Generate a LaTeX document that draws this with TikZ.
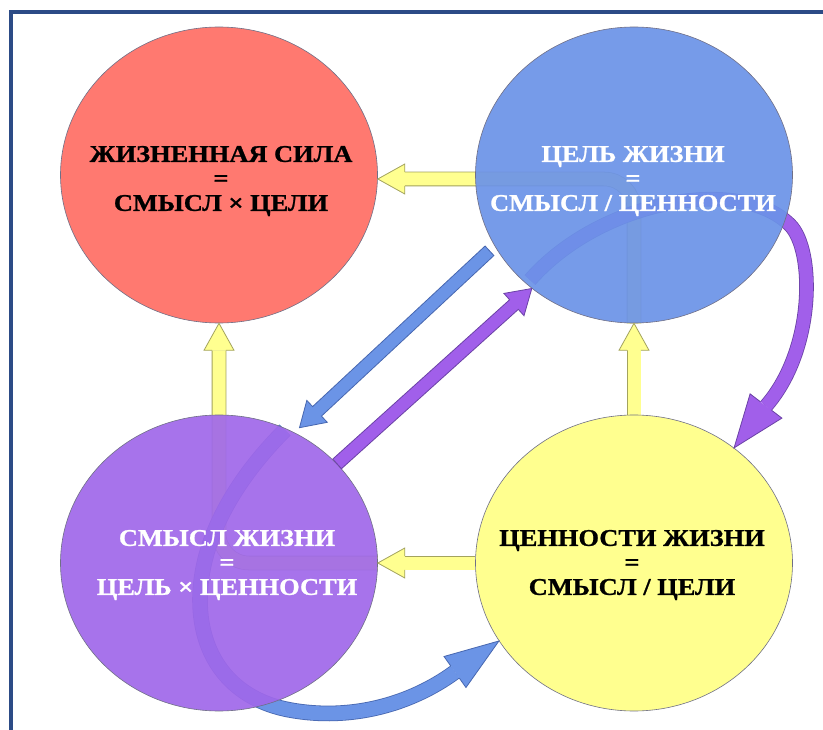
\documentclass[tikz,border=0pt]{standalone}
\usepackage{fontspec}
\setmainfont{Liberation Serif}
\newfontfamily\capfont{Liberation Serif}[FakeStretch=1.1,FakeBold=1]
\usetikzlibrary{calc,shapes.geometric,backgrounds}
\definecolor{frameC}{HTML}{2C4B86}
\definecolor{redC}{HTML}{FF6E64}
\definecolor{blueC}{HTML}{6B93E8}
\definecolor{purpC}{HTML}{A068EA}
\definecolor{yelC}{HTML}{FFFF86}
\definecolor{yelArr}{HTML}{FFFF90}
\definecolor{rimC}{HTML}{6F6F86}
\definecolor{yelRim}{HTML}{A3A35E}
\definecolor{blueArr}{HTML}{6B94E6}
\definecolor{blueRim}{HTML}{4767B0}
\definecolor{purpArr}{HTML}{A15FEA}
\definecolor{purpRim}{HTML}{6B42A6}
% arrow head: back point, tip, half width, shaft half width, style
\newcommand{\blockhead}[5]{%
  \filldraw[#5] ($(#1)!#4!90:(#2)$) -- ($(#1)!#3!90:(#2)$) -- (#2)
    -- ($(#1)!#3!-90:(#2)$) -- ($(#1)!#4!-90:(#2)$);}
% straight block arrow: tail, tip, style
\newcommand{\barrow}[3]{%
  \coordinate (hb) at ($(#2)!24pt!(#1)$);
  \filldraw[#3] ($(#1)!6.5pt!90:(#2)$) -- ($(hb)!6.5pt!90:(#2)$)
    -- ($(hb)!15pt!90:(#2)$) -- (#2) -- ($(hb)!15pt!-90:(#2)$)
    -- ($(hb)!6.5pt!-90:(#2)$) -- ($(#1)!6.5pt!-90:(#2)$) -- cycle;}

\begin{document}
\begin{tikzpicture}[x=1pt,y=-1pt,
  disc/.style={ellipse,draw=rimC,line width=.6pt,minimum width=317pt,
    minimum height=296pt,inner sep=0pt,fill opacity=.92},
  lbl/.style={font=\capfont\bfseries\fontsize{24}{24.5}\selectfont,
    align=center,inner sep=0pt},
  yshaft/.style={draw=yelRim,line width=.8pt,double=yelArr,double distance=13pt,
    rounded corners=30pt},
  pshaft/.style={draw=purpRim,line width=.8pt,double=purpArr,double distance=13pt},
  bshaft/.style={draw=blueRim,line width=.8pt,double=blueArr,double distance=14pt},
  yhead/.style={fill=yelArr,draw=yelRim,line width=.8pt},
  phead/.style={fill=purpArr,draw=purpRim,line width=.8pt},
  bhead/.style={fill=blueArr,draw=blueRim,line width=.8pt}]

\useasboundingbox (0,0) rectangle (823,730);

% ---------- the four discs ----------
\node[disc,fill=redC]    (red)    at (219,175) {};
\node[disc,fill=blueC]   (blue)   at (634,175) {};
\node[disc,fill=purpC]   (purple) at (219,563) {};
\node[disc,fill=yelC]    (yellow) at (634,563) {};

\coordinate (topbend) at (634,179);
\coordinate (rtip)  at (red.east |- topbend);
\coordinate (rback) at ($(rtip)+(27,0)$);
\coordinate (uback) at ($(blue.south)+(0,27)$);
\coordinate (lback) at ($(purple.east)+(27,0)$);
\coordinate (sback) at ($(red.south)+(0,27)$);
\coordinate (ptail) at (530,280);
\coordinate (pback) at (766,406);
\coordinate (btail) at (285,430);
\coordinate (bback) at (455,672);

% ---------- shafts, partly behind the discs ----------
\begin{scope}[on background layer]
  \fill[white] (0,0) rectangle (823,730);
  \draw[yshaft] (blue.south) -- (topbend) -- (rback);
  \draw[yshaft] (purple.east) -- (purple.center) -- (sback);
  \draw[yshaft] (yellow.north) -- (uback);
  \draw[yshaft] (yellow.west) -- (lback);
  \draw[pshaft] (ptail) .. controls (600,200) and (740,175) .. (790,225)
    .. controls (815,250) and (815,350) .. (pback);
  \draw[bshaft] (btail) .. controls (235,480) and (200,540) .. (200,600)
    .. controls (200,660) and (235,700) .. (290,710)
    .. controls (350,721) and (410,705) .. (bback);
\end{scope}

% frame
\draw[frameC,line width=3.5pt] (11,730) -- (11,12) -- (823,12);

% ---------- heads ----------
\blockhead{rback}{rtip}{15pt}{6.9pt}{yhead}
\blockhead{uback}{blue.south}{15pt}{6.9pt}{yhead}
\blockhead{lback}{purple.east}{15pt}{6.9pt}{yhead}
\blockhead{sback}{red.south}{15pt}{6.9pt}{yhead}
\blockhead{pback}{yellow.49}{20pt}{6.9pt}{phead}
\blockhead{bback}{yellow.210}{19pt}{7.4pt}{bhead}

% ---------- the two diagonals ----------
\coordinate (dtail) at ($(blue.207)!7pt!(purple.60)$);
\coordinate (dtip)  at ($(purple.60)!7pt!(blue.207)$);
\barrow{dtail}{dtip}{bhead}
\barrow{purple.40}{blue.228}{phead}

% ---------- labels ----------
\node[lbl,text=black] (redtxt)    at (221,181) {ЖИЗНЕННАЯ СИЛА\\=\\СМЫСЛ × ЦЕЛИ};
\node[lbl,text=white] (bluetxt)   at (633,181) {ЦЕЛЬ ЖИЗНИ\\=\\СМЫСЛ / ЦЕННОСТИ};
\node[lbl,text=white] (purpletxt) at (227,565) {СМЫСЛ ЖИЗНИ\\=\\ЦЕЛЬ × ЦЕННОСТИ};
\node[lbl,text=black] (yellowtxt) at (632,565) {ЦЕННОСТИ ЖИЗНИ\\=\\СМЫСЛ / ЦЕЛИ};
\end{tikzpicture}
\end{document}
